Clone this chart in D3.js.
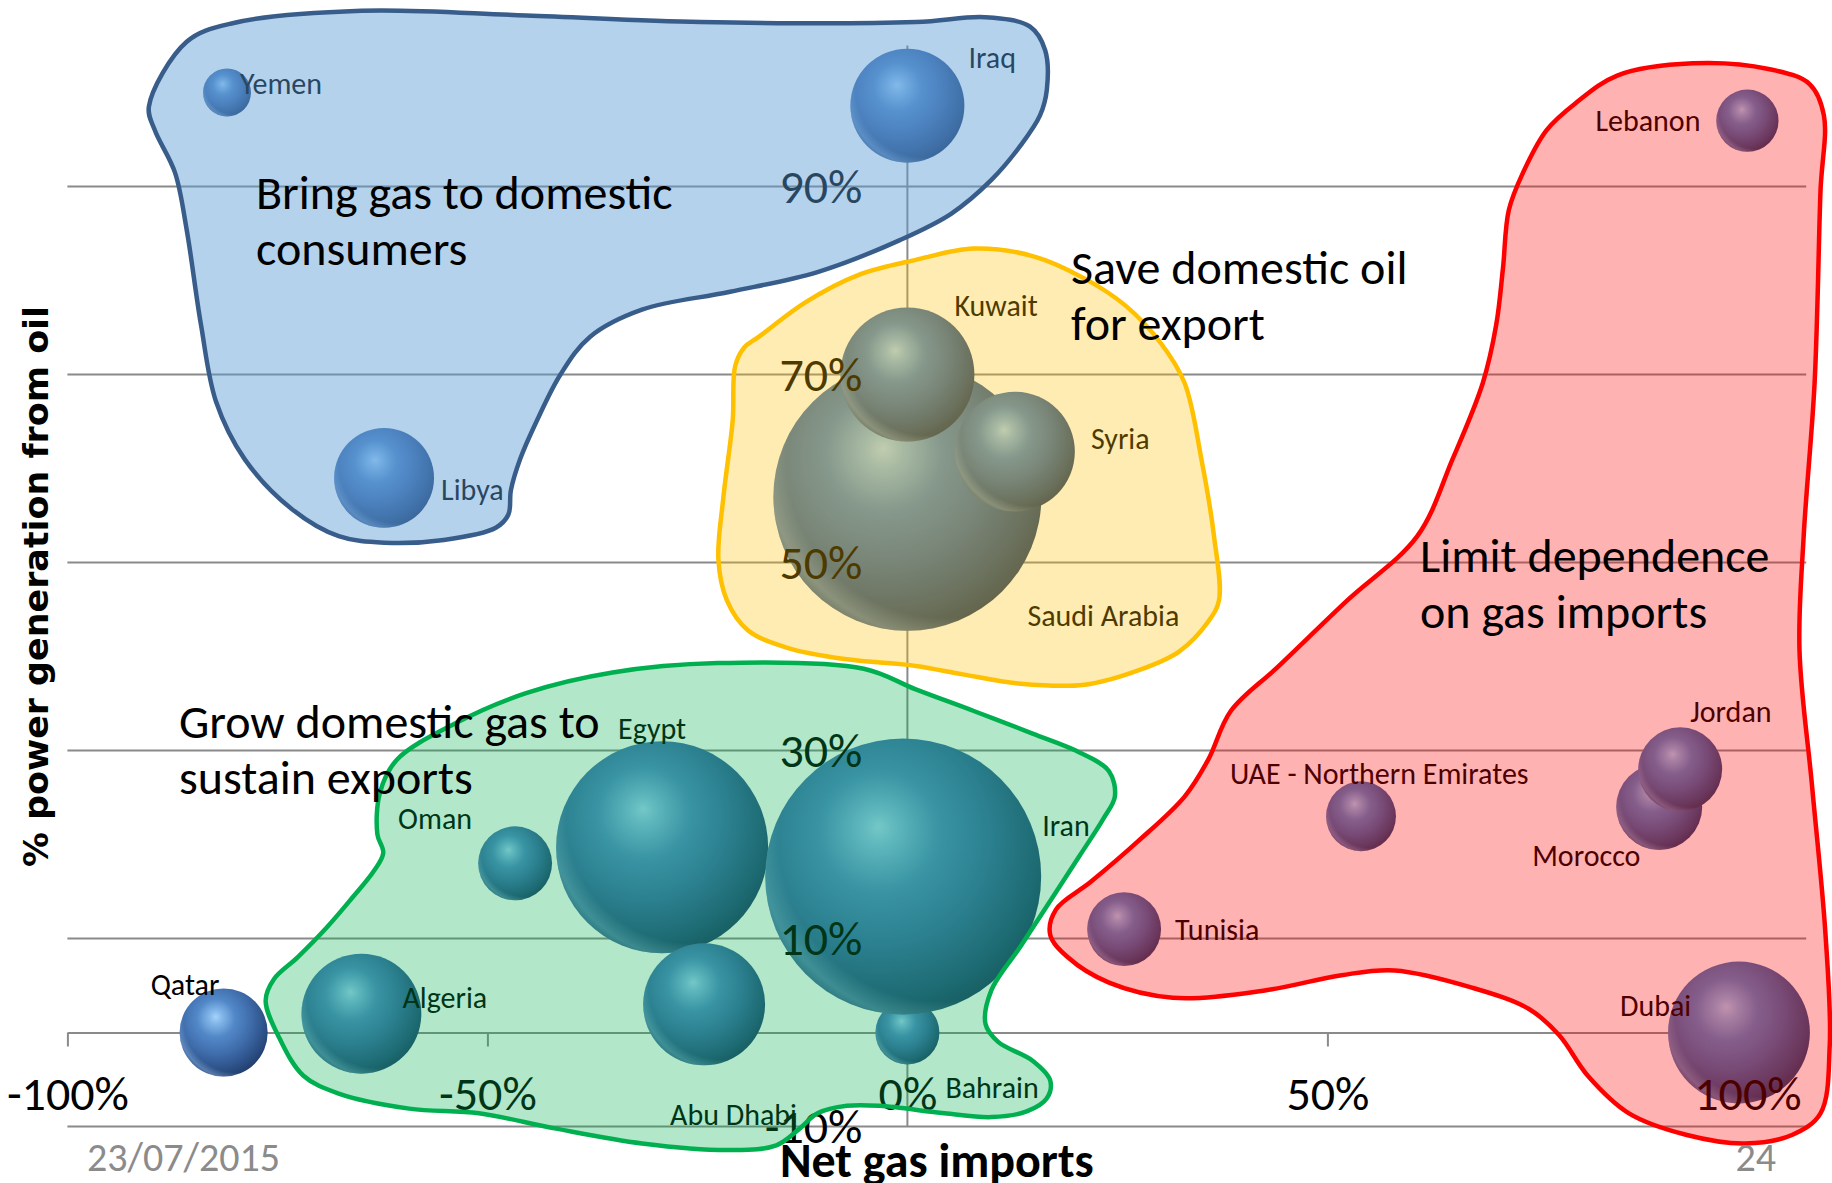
<!DOCTYPE html>
<html><head><meta charset="utf-8">
<script src="https://cdn.jsdelivr.net/npm/d3@7"></script>
<style>
html,body{margin:0;padding:0;background:#fff;overflow:hidden}
svg{display:block}
</style></head><body>
<svg id="chart" width="1832" height="1183"></svg>
<script>
// ---------- data ----------
const countries     = ["Yemen","Iraq","Libya","Qatar","Saudi Arabia","Kuwait","Syria","Bahrain","Egypt","Iran","Abu Dhabi","Oman","Algeria","Lebanon","Tunisia","UAE - Northern Emirates","Morocco","Jordan","Dubai"];
const netGasImports = [-81, 0, -62.3, -81.4, 0, 0, 12.8, 0, -29.2, -0.5, -24.2, -46.7, -65, 100, 25.8, 54, 89.5, 92, 99];
const oilShare      = [100, 98.6, 59, 0, 57, 70, 61.8, 0, 19.7, 16.6, 3, 18, 2, 97, 11, 23, 24, 28, 0];
const bubbleSize    = [3.2, 18.1, 13.9, 10.8, 100, 25, 20, 5.7, 62.6, 106, 20.7, 7.6, 20, 5.4, 7.6, 6.8, 10.3, 9.8, 28];

const xTicks = [-100, -50, 0, 50, 100];
const yTicks = [-10, 10, 30, 50, 70, 90];
const xTitle = "Net gas imports";
const yTitle = "% power generation from oil";
const footerDate = "23/07/2015";
const footerPage = "24";

// region annotations (outline points in data units: [net gas imports %, oil share %])
const regionNames = ["Bring gas to domestic|consumers","Save domestic oil|for export","Grow domestic gas to|sustain exports","Limit dependence|on gas imports"];
const blueRegion = [[-90.3,98.5],[-85.8,105.4],[-80.2,107.4],[-65,108.7],[-45.4,108.2],[-24.6,107.5],[1,107.5],[9.3,108],[14.6,107],[16.4,104.5],[16.6,100.3],[15.8,97.6],[13.5,94.4],[10,90.7],[5.2,87.1],[-0.9,84.3],[-10.7,80.9],[-21.1,78.8],[-31.6,76.9],[-37.8,74],[-41.3,70],[-44.1,65.1],[-46.1,61],[-47.2,57.7],[-47.5,55.1],[-49,53.7],[-55.2,52.4],[-62.2,52.1],[-67.7,52.8],[-73.3,55.7],[-78.9,61],[-82.3,67.1],[-84.1,75.3],[-85.8,85.4],[-87.2,91.5],[-89.6,96]];
const yellowRegion = [[1,82.2],[7.9,83.4],[14.9,82.6],[21.1,80.2],[26,77.3],[30.2,73.3],[33,69.1],[35,61],[36.5,52.8],[37.1,46],[35.8,43.7],[32.3,40.5],[27.4,38.5],[21.1,37],[13.5,37.1],[6.6,38.1],[1,39],[-7.2,39.7],[-14.2,40.9],[-19,42.8],[-21.5,46],[-22.5,50.3],[-21.9,57],[-20.8,65.1],[-20.5,70.9],[-19.4,72.9],[-17.7,74],[-12.1,77.7],[-5.8,80.6]];
const greenRegion = [[-22.6,39.3],[-5.2,38.7],[1,36.5],[7.9,34.2],[14.9,31.8],[20.5,29.8],[24,27.8],[24.7,25.1],[23.3,22.7],[20.5,18.8],[17,14],[13.5,9.2],[10,4.5],[9.3,0.9],[10.8,-1],[14.9,-3],[17,-5.1],[16.6,-7],[14.2,-8.4],[10,-9],[4.4,-8.6],[-3.3,-7.8],[-7.2,-7.8],[-10.7,-8.6],[-12.8,-10.2],[-15.6,-12],[-21.1,-12.5],[-31.6,-11.8],[-42,-10.2],[-51,-8.6],[-59.3,-8.1],[-67.7,-6.5],[-71.9,-4.6],[-74.7,-0.7],[-76.4,3.4],[-75.4,5.7],[-72.6,8],[-69.1,11.2],[-66.4,14],[-63.5,17.2],[-62.4,19.1],[-63.1,21.1],[-62.8,25.5],[-60.8,29],[-53.8,32.9],[-45.4,36.1],[-35.1,38.3]];
const redRegion = [[79.6,98.9],[84.5,101.8],[93.5,103.1],[102.5,102.5],[107.4,100.9],[109.1,97.6],[108.7,89.5],[108,69.1],[106.7,52.8],[106.2,40.7],[107.7,26.2],[109.3,10.4],[109.8,-1.4],[108.7,-8.6],[105.3,-10.9],[99.7,-11.8],[92.8,-10.9],[85.9,-8.6],[81,-4.6],[77.6,-0.3],[74,2.5],[67.1,4.8],[58,6.6],[51.7,6.1],[42.7,4.5],[31.6,3.7],[24,5.3],[19.1,8],[17,10.4],[17.7,13.1],[21.8,16],[27.4,20.3],[33,25.1],[35.8,29],[38.5,34.2],[44.1,38.9],[52.4,46],[60.7,52.8],[64.9,61],[68.5,69.1],[70.1,75.3],[70.9,81.3],[71.6,87.5],[73.3,91.5],[76.1,96]];

// ---------- layout / style ----------
const FONT = "Carlito, 'Liberation Sans Narrow', 'Arial Narrow', 'DejaVu Sans Condensed', 'Open Sans', sans-serif";
const labelLayout = { // dx, dy (to text centre) from bubble centre, anchor
  "Yemen":[13,-8,"start"], "Iraq":[61,-48,"start"], "Libya":[57,12,"start"], "Qatar":[-73,-47,"start"],
  "Saudi Arabia":[120,119,"start"], "Kuwait":[47,-68,"start"], "Syria":[76,-12,"start"], "Bahrain":[38,56,"start"],
  "Egypt":[-44,-118,"start"], "Iran":[139,-50,"start"], "Abu Dhabi":[-34,111,"start"], "Oman":[-117,-44,"start"],
  "Algeria":[41,-16,"start"], "Lebanon":[-47,0,"end"], "Tunisia":[51,1,"start"], "UAE - Northern Emirates":[-131,-42,"start"],
  "Morocco":[-127,49,"start"], "Jordan":[10,-57,"start"], "Dubai":[-119,-26,"start"]
};
const regionStyle = [
  {pts: blueRegion,   fill:"#5B9BD5", op:0.45, stroke:"#385D8A", tx:256,  ty:209},
  {pts: yellowRegion, fill:"#FFC000", op:0.30, stroke:"#FFC000", tx:1071, ty:284},
  {pts: greenRegion,  fill:"#00B050", op:0.30, stroke:"#00B050", tx:179,  ty:738},
  {pts: redRegion,    fill:"#FF0000", op:0.30, stroke:"#FF0000", tx:1420, ty:572}
];

const svg = d3.select("#chart");
const x = d3.scaleLinear().domain([-100, 107]).range([67.4, 1806.2]);
const y = d3.scaleLinear().domain([-10, 105]).range([1126.5, 45.5]);
const r = d3.scaleSqrt().domain([0, 100]).range([0, 134]);

const data = countries.map((c,i)=>({name:c, gx:netGasImports[i], oy:oilShare[i], s:bubbleSize[i]}));

// gradients
const defs = svg.append("defs");
const g1 = defs.append("radialGradient").attr("id","ball")
  .attr("cx",0.42).attr("cy",0.38).attr("r",0.72).attr("fx",0.41).attr("fy",0.32);
[[0,"#a6d2fa"],[0.1,"#84b8ea"],[0.3,"#5288c8"],[0.55,"#3f6cab"],[0.8,"#2a4d82"],[1,"#1a3058"]]
  .forEach(([o,c])=>g1.append("stop").attr("offset",o).attr("stop-color",c));
const g2 = defs.append("radialGradient").attr("id","rim")
  .attr("cx",0.64).attr("cy",0.36).attr("r",0.74);
[[0,"#9cc4f0",0],[0.8,"#9cc4f0",0],[0.9,"#9cc4f0",0.4],[0.97,"#9cc4f0",0.12],[1,"#9cc4f0",0]]
  .forEach(([o,c,a])=>g2.append("stop").attr("offset",o).attr("stop-color",c).attr("stop-opacity",a));

// gridlines
svg.append("g").selectAll("line").data(yTicks).join("line")
  .attr("x1", x(-100)).attr("x2", x(107))
  .attr("y1", d=>y(d)).attr("y2", d=>y(d))
  .attr("stroke","#8a8a8a").attr("stroke-width",2);

// axis lines (behind bubbles)
const xAxisG = svg.append("g").attr("transform",`translate(0,${y(0)})`)
  .call(d3.axisBottom(x).tickValues(xTicks).tickSize(14).tickSizeOuter(0).tickFormat(""));
xAxisG.select(".domain").attr("stroke","#8a8a8a").attr("stroke-width",2);
xAxisG.selectAll(".tick line").attr("stroke","#8a8a8a").attr("stroke-width",2);
svg.append("line").attr("x1",x(0)).attr("x2",x(0)).attr("y1",y(-10)).attr("y2",y(105))
  .attr("stroke","#8a8a8a").attr("stroke-width",2);

// bubbles
const bubbles = svg.append("g").selectAll("g").data(data).join("g")
  .attr("transform", d=>`translate(${x(d.gx)},${y(d.oy)})`);
bubbles.append("circle").attr("r", d=>r(d.s)).attr("fill","url(#ball)");
bubbles.append("circle").attr("r", d=>r(d.s)).attr("fill","url(#rim)");

// tick labels (drawn over bubbles)
const xLab = svg.append("g").attr("transform",`translate(0,${y(0)})`)
  .call(d3.axisBottom(x).tickValues(xTicks).tickSize(0).tickPadding(43).tickFormat(d=>d+"%"));
xLab.select(".domain").remove();
xLab.selectAll("text").attr("font-family",FONT).attr("font-size",48).attr("fill","#000");
const yLab = svg.append("g").attr("transform",`translate(${x(0)},0)`)
  .call(d3.axisLeft(y).tickValues(yTicks).tickSize(0).tickPadding(45).tickFormat(d=>d+"%"));
yLab.select(".domain").remove();
yLab.selectAll("text").attr("font-family",FONT).attr("font-size",48).attr("fill","#000").attr("dy","0.33em");

// bubble labels
svg.append("g").selectAll("text").data(data).join("text")
  .attr("x", d=>x(d.gx)+labelLayout[d.name][0])
  .attr("y", d=>y(d.oy)+labelLayout[d.name][1])
  .attr("dy","0.33em")
  .attr("text-anchor", d=>labelLayout[d.name][2])
  .attr("font-family",FONT).attr("font-size",30).attr("fill","#000")
  .text(d=>d.name);

// region overlays
const line = d3.line().x(d=>x(d[0])).y(d=>y(d[1])).curve(d3.curveCatmullRomClosed.alpha(0.5));
svg.append("g").selectAll("path").data(regionStyle).join("path")
  .attr("d", d=>line(d.pts))
  .attr("fill", d=>d.fill).attr("fill-opacity", d=>d.op)
  .attr("stroke", d=>d.stroke).attr("stroke-width",4.5).attr("stroke-linejoin","round");

// region captions
regionStyle.forEach((st,i)=>{
  const t = svg.append("text").attr("x",st.tx).attr("y",st.ty)
    .attr("font-family",FONT).attr("font-size",48).attr("fill","#000");
  regionNames[i].split("|").forEach((ln,j)=>{
    t.append("tspan").attr("x",st.tx).attr("dy", j===0?0:56).text(ln);
  });
});

// axis titles
svg.append("text").attr("x", (x(-100)+x(107))/2).attr("y",1177)
  .attr("text-anchor","middle").attr("font-family",FONT).attr("font-weight","bold")
  .attr("font-size",48).text(xTitle);
svg.append("text").attr("transform",`translate(48,${(306+867)/2}) rotate(-90)`)
  .attr("text-anchor","middle").attr("font-family","'DejaVu Sans', Verdana, sans-serif").attr("font-weight","bold")
  .attr("font-size",33).attr("textLength",561).attr("lengthAdjust","spacingAndGlyphs").text(yTitle);

// footer
svg.append("text").attr("x",87).attr("y",1171).attr("font-family",FONT).attr("font-size",40)
  .attr("fill","#8b8b8b").text(footerDate);
svg.append("text").attr("x",1776).attr("y",1171).attr("text-anchor","end").attr("font-family",FONT)
  .attr("font-size",40).attr("fill","#8b8b8b").text(footerPage);
</script>
</body></html>
